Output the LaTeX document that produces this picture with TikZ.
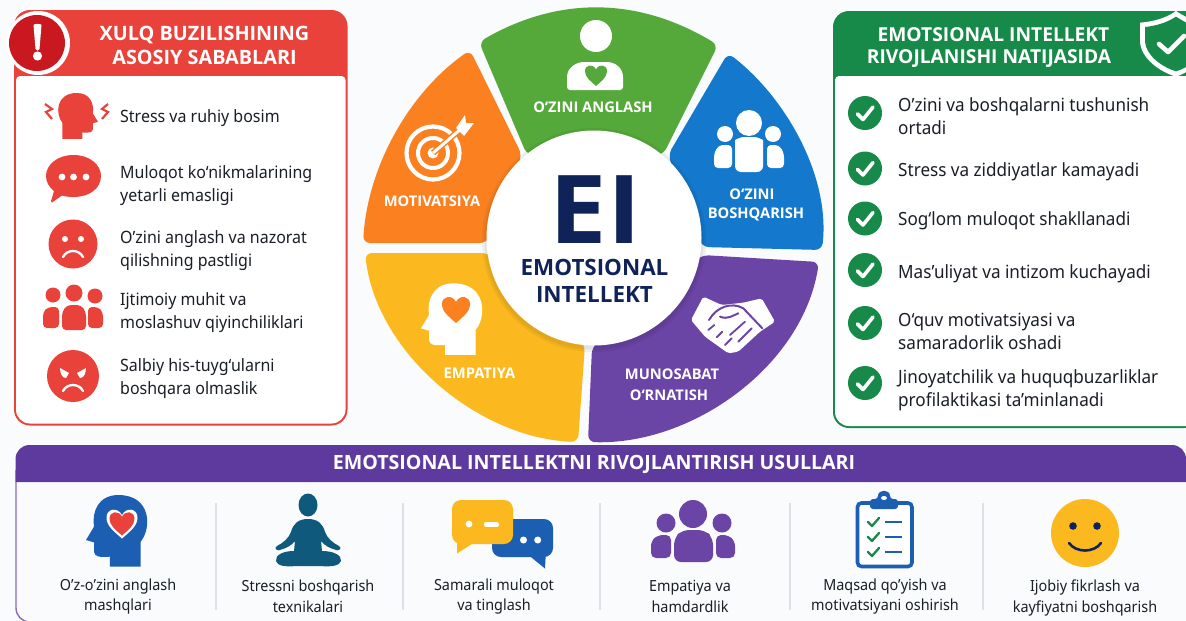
\documentclass[tikz,border=0pt]{standalone}
\usepackage{fontspec}
\setmainfont[FakeStretch=0.94]{Noto Sans}
\newfontfamily\hbf{Open Sans}
\definecolor{bgc}{HTML}{F9FBFD}
\definecolor{redc}{HTML}{E8423B}
\definecolor{darkred}{HTML}{C9181F}
\definecolor{greenc}{HTML}{178A4A}
\definecolor{wgreen}{HTML}{55A83A}
\definecolor{wblue}{HTML}{1478CC}
\definecolor{wpurple}{HTML}{6B45A6}
\definecolor{wyellow}{HTML}{FBB91F}
\definecolor{worange}{HTML}{FB8020}
\definecolor{hpurple}{HTML}{5F3A9E}
\definecolor{navy}{HTML}{0F2358}
\definecolor{iblue}{HTML}{1C5FB2}
\definecolor{teal}{HTML}{0F5A7C}
\definecolor{ink}{HTML}{1A1E26}
\definecolor{divc}{HTML}{DCE1E8}
\newcommand\headpath{(362,1065) -- (362,990) .. controls (395,950) and (395,850) .. (295,850) .. controls (235,850) and (215,900) .. (222,945) -- (198,985) -- (222,992) -- (222,1020) .. controls (225,1035) and (235,1037) .. (270,1035) -- (270,1065) -- cycle}
\newcommand\heartat[4]{\fill[#1,shift={(#2,#3)},scale=#4] (0,1) .. controls (-.5,.55) and (-1,.2) .. (-1,-.35) .. controls (-1,-.95) and (-.25,-1.05) .. (0,-.5) .. controls (.25,-1.05) and (1,-.95) .. (1,-.35) .. controls (1,.2) and (.5,.55) .. (0,1) -- cycle;}
\newcommand\tickat[3]{\fill[greenc] (#1,#2) circle (#3); \draw[white,line width=3.6pt,line cap=round,line join=round] (#1-7.5,#2+1) -- (#1-2,#2+6.5) -- (#1+8,#2-6);}
\newcommand\greentick[2]{\draw[greenc,line width=2.3pt,line cap=round,line join=round] (#1-5,#2) -- (#1-1,#2+4) -- (#1+6,#2-4);}
\tikzset{
  bodytxt/.style={anchor=west,inner sep=0pt,align=left,text=ink,yshift=-1.8pt,font=\fontsize{17}{22.6}\selectfont},
  bodyr/.style={anchor=west,inner sep=0pt,align=left,text=ink,yshift=-2pt,font=\fontsize{18.2}{23.2}\selectfont},
  coltxt/.style={inner sep=0pt,align=center,text=ink,yshift=-1.5pt,font=\fontsize{15.3}{20.5}\selectfont},
  headtxt/.style={inner sep=0pt,align=center,text=white,font=\fontsize{19.2}{24.5}\selectfont\hbf\bfseries},
  wheeltxt/.style={inner sep=0pt,align=center,text=white,font=\fontsize{14.7}{20.5}\selectfont\hbf\bfseries},
  seg/.style={rounded corners=7pt},
  zw/.style={shift={(355,0)},scale=1/3},
  zr/.style={shift={(826,0)},scale=1/3},
  sep/.style={divc,line width=1.4pt}
}
\begin{document}
\begin{tikzpicture}[x=1pt,y=-1pt]
\useasboundingbox (0,0) rectangle (1186,621);
\fill[bgc] (0,0) rectangle (1186,621);

% ---------- left card
\fill[redc,rounded corners=16pt] (14,10) rectangle (347.5,425.5);
\fill[white] [rounded corners=4pt] (16,76) -- (345.5,76) [rounded corners=14pt] -- (345.5,423.5) -- (16,423.5) [rounded corners=4pt] -- cycle;
\fill[white] (38,43) circle (32);
\fill[darkred] (37,43) circle (28);
\fill[white] (33.5,25) .. controls (34,23.5) and (41,23.5) .. (41.5,25) -- (39.5,49) .. controls (39,51) and (36,51) .. (35.5,49) -- cycle;
\fill[white] (37.5,56) circle (4.6);
\node[headtxt,font=\fontsize{19.8}{24.8}\selectfont\hbf\bfseries] (lh) at (204.5,45.5) {XULQ BUZILISHINING\\ASOSIY SABABLARI};

% stress icon
\fill[redc,shift={(140.9,-88.3)},xscale=-.2167,yscale=.2133] \headpath;
\draw[redc,line width=2.2pt,line join=miter] (45,104) -- (52,109) -- (46,112) -- (52,119);
\draw[redc,line width=2.2pt,line join=miter] (108,104) -- (102,109) -- (108,112) -- (102,119);
\node[bodytxt] (l1) at (120,116) {Stress va ruhiy bosim};
% bubble
\fill[redc] (73.5,155) .. controls (90,155) and (101,165) .. (101,176) .. controls (101,188) and (90,197) .. (73.5,197) .. controls (69,197) and (65,196.5) .. (62,195.5) -- (52,202.5) .. controls (51,202.5) and (51,202) .. (51,201) -- (54,191) .. controls (49,187) and (46,182) .. (46,176) .. controls (46,165) and (57,155) .. (73.5,155) -- cycle;
\fill[white] (62,177) circle (3.4) (73.5,177) circle (3.4) (86,177) circle (3.4);
\node[bodytxt] (l2) at (120,184) {Muloqot ko‘nikmalarining\\yetarli emasligi};
% sad face
\fill[redc] (73,244) circle (24.5);
\fill[white] (65,239) circle (3) (81,239) circle (3);
\draw[white,line width=2.3pt,line cap=round] (63,257) .. controls (67,249) and (79,249) .. (83,257);
\node[bodytxt] (l3) at (120,249) {O’zini anglash va nazorat\\qilishning pastligi};
% people
\fill[redc] (53,295) circle (7.5) (74,293) circle (8.5) (95,296) circle (7.5);
\fill[redc,rounded corners=4pt] (43,328) -- (43,312) -- (48,307) -- (59,307) -- (59,328) -- cycle;
\fill[redc,rounded corners=4pt] (103,328) -- (103,312) -- (98,307) -- (88,307) -- (88,328) -- cycle;
\fill[redc,rounded corners=4pt] (62,330) -- (62,312) -- (67,305) -- (81,305) -- (86,312) -- (86,330) -- cycle;
\node[bodytxt] (l4) at (120,311) {Ijtimoiy muhit va\\moslashuv qiyinchiliklari};
% angry face
\fill[redc] (73,376) circle (26);
\fill[white] (60,368) -- (69,373) -- (66,378) .. controls (62,378) and (60,373) .. (60,368) -- cycle;
\fill[white] (86,368) -- (77,373) -- (80,378) .. controls (84,378) and (86,373) .. (86,368) -- cycle;
\draw[white,line width=2.3pt,line cap=round] (63,391) .. controls (67,383) and (79,383) .. (83,391);
\node[bodytxt] (l5) at (120,377) {Salbiy his-tuyg‘ularni\\boshqara olmaslik};

% ---------- wheel
\fill[wgreen,seg] (479,42) .. controls (559,-4) and (638,-3) .. (718,45) -- (663,155) -- (527,155) -- cycle;
\fill[wblue,seg] (728,53) .. controls (786,98) and (830,176) .. (822,250) -- (702,247) -- (668,155) -- cycle;
\fill[wpurple,seg] (819,262) .. controls (802,366) and (693,445) .. (588,442) -- (592,347) -- (702,255) -- cycle;
\fill[wyellow,seg] (578,442) .. controls (478,438) and (377,353) .. (365,253) -- (488,253) -- (585,345) -- cycle;
\fill[worange,seg] (363,243) .. controls (368,167) and (408,94) .. (470,50) -- (522,155) -- (487,243) -- cycle;
% green icon
\fill[white] (596,36) circle (16);
\fill[white,rounded corners=3pt] (567,90) -- (567,80) .. controls (567,68) and (576,62) .. (587,62) -- (604,62) .. controls (615,62) and (623,68) .. (623,80) -- (623,90) -- cycle;
\heartat{wgreen}{596}{75}{11}
\node[wheeltxt] (w1) at (593,107) {O‘ZINI ANGLASH};
% blue icon
\fill[white] (749,123) circle (13) (725,134) circle (8) (773,134) circle (8);
\fill[white,rounded corners=6pt] (735,172) -- (735,146) .. controls (735,140) and (741,137) .. (749,137) .. controls (757,137) and (763,140) .. (763,146) -- (763,172) -- cycle;
\fill[white,rounded corners=4pt] (714,168) -- (714,153) -- (719,145) -- (732,145) -- (732,168) -- cycle;
\fill[white,rounded corners=4pt] (784,168) -- (784,153) -- (779,145) -- (767,145) -- (767,168) -- cycle;
\node[wheeltxt] (w2a) at (752,194) {O‘ZINI};
\node[wheeltxt] (w2b) at (756,214) {BOSHQARISH};
% target icon
\draw[white,line width=4.2pt] (433,153) circle (26.5);
\draw[white,line width=4pt] (433,153) circle (15);
\fill[white] (433,153) circle (5.5);
\draw[worange,line width=6pt] (433,153) -- (462,128);
\draw[white,line width=3pt] (433,153) -- (462,128);
\fill[white] (456,128) -- (465,115) -- (466,123) -- (474,123) -- (464,136) -- cycle;
\node[wheeltxt] (w3) at (432,201.5) {MOTIVATSIYA};
% empathy icon
\fill[white,zw] \headpath;
\heartat{worange}{456}{309}{14}
\node[wheeltxt] (w4) at (479.5,373.5) {EMPATIYA};
% handshake icon
\fill[white,zw,rounded corners=2pt] (1045,890) -- (1100,915) -- (1165,908) -- (1220,895) -- (1260,965) -- (1215,995) -- (1150,1055) -- (1120,1060) -- (1050,1010) -- (1008,960) -- cycle;
\draw[wpurple,zw,line width=2pt,line cap=round] (1062,960) .. controls (1085,920) and (1130,905) .. (1165,925) -- (1222,985);
\draw[wpurple,zw,line width=2pt,line cap=round] (1095,950) .. controls (1120,960) and (1135,945) .. (1150,940);
\draw[wpurple,zw,line width=1.8pt,line cap=round] (1060,990) -- (1078,975) (1085,1012) -- (1102,995) (1110,1035) -- (1130,1015) (1190,985) -- (1150,1025) (1170,965) -- (1125,1005);
\node[wheeltxt] (w5a) at (672,374) {MUNOSABAT};
\node[wheeltxt] (w5b) at (669,395) {O‘RNATISH};
% centre
\fill[black,opacity=.05] (594,240) circle (112);
\fill[black,opacity=.05] (594,240) circle (109.5);
\fill[white] (594,238) circle (107.5);
\node[inner sep=0pt,text=navy,text depth=0pt,text height=68pt,font=\fontsize{95}{95}\selectfont\hbf\bfseries] (ei) at (595.5,209) {\scalebox{1.08}[1]{EI}};
\node[inner sep=0pt,align=center,text=navy,font=\fontsize{22.4}{27}\selectfont\hbf\bfseries] (eit) at (594.5,280.5) {EMOTSIONAL\\INTELLEKT};

% ---------- right card
\fill[greenc,rounded corners=16pt] (833,11) rectangle (1200,428);
\fill[white] [rounded corners=4pt] (835,76) -- (1200,76) -- (1200,426) [rounded corners=14pt] -- (1184.5,426) -- (835,426) [rounded corners=4pt] -- cycle;
\node[headtxt] (rh1) at (993.5,35) {EMOTSIONAL INTELLEKT};
\node[headtxt] (rh2) at (989,59) {RIVOJLANISHI NATIJASIDA};
\fill[white,zr] (1050,33) .. controls (1020,55) and (980,65) .. (942,68) -- (942,125) .. controls (945,175) and (1000,215) .. (1050,230) .. controls (1080,220) and (1110,200) .. (1125,170) -- (1125,68) .. controls (1100,60) and (1075,50) .. (1050,33) -- cycle;
\fill[greenc,zr] (1050,50) .. controls (1020,70) and (985,78) .. (957,81) -- (957,125) .. controls (960,165) and (1005,200) .. (1050,214) .. controls (1080,205) and (1100,190) .. (1110,165) -- (1110,80) .. controls (1090,75) and (1075,65) .. (1050,50) -- cycle;
\draw[white,line width=4.6pt,line cap=round,line join=round] (1159,44) -- (1168,52) -- (1184,36);
\tickat{865}{113}{17}
\tickat{865}{168.5}{17}
\tickat{865}{218.5}{17}
\tickat{865}{270}{17}
\tickat{865}{323}{17}
\tickat{865}{383}{17}
\node[bodyr] (r1) at (898,114.5) {O’zini va boshqalarni tushunish\\ortadi};
\node[bodyr] (r2) at (898,170) {Stress va ziddiyatlar kamayadi};
\node[bodyr] (r3) at (898,219) {Sog‘lom muloqot shakllanadi};
\node[bodyr] (r4) at (898,272) {Mas’uliyat va intizom kuchayadi};
\node[bodyr] (r5) at (898,329.5) {O‘quv motivatsiyasi va\\samaradorlik oshadi};
\node[bodyr] (r6) at (898,388) {Jinoyatchilik va huquqbuzarliklar\\profilaktikasi ta’minlanadi};

% ---------- bottom panel
\fill[bgc] (16,482) rectangle (1186,621);
\draw[hpurple!75,line width=1.4pt,rounded corners=14pt] (16,470) -- (16,622) -- (32,622);
\fill[hpurple] [rounded corners=14pt] (15.5,482) -- (15.5,445) -- (1186,445) [rounded corners=0pt] -- (1186,482) -- cycle;
\node[inner sep=0pt,text=white,font=\fontsize{19.6}{22}\selectfont\hbf\bfseries] (bt) at (594,464) {EMOTSIONAL INTELLEKTNI RIVOJLANTIRISH USULLARI};
\draw[sep] (216,503) -- (216,610);
\draw[sep] (403,503) -- (403,610);
\draw[sep] (600,503) -- (600,610);
\draw[sep] (790,503) -- (790,610);
\draw[sep] (983,503) -- (983,610);
% col 1
\fill[iblue,shift={(20,211.7)},scale=1/3] \headpath;
\fill[white,shift={(122,523)},scale=15.5] (0,1) .. controls (-.5,.55) and (-1,.2) .. (-1,-.35) .. controls (-1,-.95) and (-.25,-1.05) .. (0,-.5) .. controls (.25,-1.05) and (1,-.95) .. (1,-.35) .. controls (1,.2) and (.5,.55) .. (0,1) -- cycle;
\heartat{redc}{122}{523}{12.5}
\node[coltxt] (c1) at (118,595) {O’z-o’zini anglash\\mashqlari};
% col 2
\fill[teal] (308,505) ellipse (9.5 and 11.5);
\fill[teal] (308,519) .. controls (318,519) and (323,524) .. (325,532) .. controls (327,538) and (333,543) .. (339,546) .. controls (342,548) and (340,551) .. (336,550) .. controls (329,548) and (324,545) .. (321,541) -- (322,551) .. controls (333,551) and (342,555) .. (341,561) .. controls (340,566) and (330,567) .. (320,566) -- (296,566) .. controls (286,567) and (277,566) .. (276,561) .. controls (275,555) and (283,551) .. (294,551) -- (295,541) .. controls (292,545) and (287,548) .. (280,550) .. controls (276,551) and (274,548) .. (277,546) .. controls (283,543) and (289,538) .. (291,532) .. controls (293,524) and (298,519) .. (308,519) -- cycle;
\node[coltxt] (c2) at (308,595) {Stressni boshqarish\\texnikalari};
% col 3
\fill[iblue,rounded corners=9pt] (492,519) rectangle (553,557);
\fill[iblue] (526,553) -- (545,568.5) -- (546,550) -- cycle;
\fill[wyellow,rounded corners=9pt] (452,500) rectangle (513,544);
\fill[wyellow] (457,535) -- (457,553.5) -- (475,542) -- cycle;
\fill[white] (469,524) circle (3.4);
\draw[white,line width=4.2pt,line cap=round] (486,524.5) -- (497,524.5);
\fill[white] (523.5,540) circle (3.5) (537.7,540) circle (3.5);
\node[coltxt] (c3) at (494,595) {Samarali muloqot\\va tinglash};
% col 4
\fill[wpurple] (693,514) circle (14) (666,523) circle (9.5) (722,523) circle (9.5);
\fill[wpurple,rounded corners=5pt] (651,558) -- (651,541) -- (658,535) -- (671,535) -- (671,558) -- cycle;
\fill[wpurple,rounded corners=5pt] (735,558) -- (735,541) -- (728,535) -- (716,535) -- (716,558) -- cycle;
\fill[wpurple,rounded corners=7pt] (674,562) -- (674,538) -- (682,530) -- (705,530) -- (713,538) -- (713,562) -- cycle;
\node[coltxt] (c4) at (690,595) {Empatiya va\\hamdardlik};
% col 5
\draw[iblue,line width=3.6pt,rounded corners=4pt,fill=white] (857.5,503) rectangle (912,566.5);
\fill[iblue,rounded corners=3pt] (870,509) -- (870,499) -- (878,499) .. controls (878,489) and (890,489) .. (890,499) -- (898,499) -- (898,509) -- cycle;
\fill[white] (884,498) ellipse (3 and 2);
\greentick{873}{522}
\greentick{873}{537}
\greentick{873}{552}
\draw[iblue,line width=2.4pt] (885,522) -- (902,522) (885,537) -- (902,537) (885,552) -- (902,552);
\node[coltxt] (c5) at (885,595) {Maqsad qo’yish va\\motivatsiyani oshirish};
% col 6
\fill[wyellow] (1085,533) circle (34);
\fill[navy] (1073,526) circle (3.8) (1097,526) circle (3.8);
\draw[navy,line width=2.6pt,line cap=round] (1069,543) .. controls (1076,553) and (1094,553) .. (1101,543);
\node[coltxt] (c6) at (1085,596.5) {Ijobiy fikrlash va\\kayfiyatni boshqarish};
\end{tikzpicture}
\end{document}
